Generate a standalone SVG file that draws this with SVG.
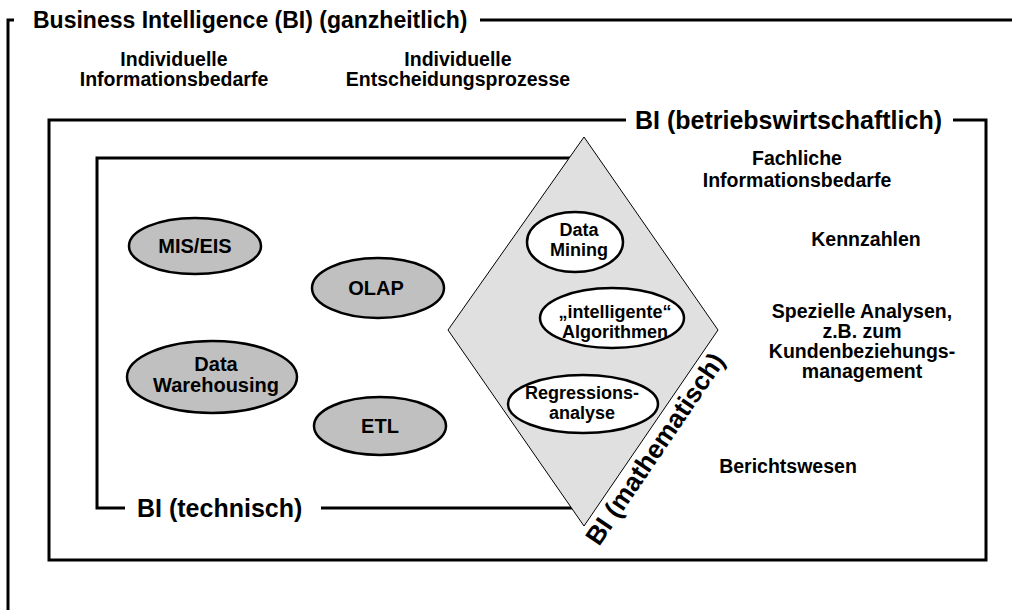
<svg xmlns="http://www.w3.org/2000/svg" width="1017" height="610" viewBox="0 0 1017 610">
<style>
text{font-family:"Liberation Sans",Arial,sans-serif;font-weight:bold;fill:#000}
.frame{fill:none;stroke:#000;stroke-width:3}
.sec{font-size:25px}
.body{font-size:19.5px;text-anchor:middle}
.ell{font-size:20px;text-anchor:middle}
.ell2{font-size:18px;text-anchor:middle}
.gray{fill:#c0c0c0;stroke:#000;stroke-width:2.5}
.white{fill:#fff;stroke:#000;stroke-width:2.5}
</style>
<rect width="1017" height="610" fill="#fff"/>
<g id="connectors">
<polyline class="frame" points="14,20 8,20 8,612"/>
<line class="frame" x1="480" y1="20" x2="1012" y2="20"/>
<polyline class="frame" points="626,120 49,120 49,560 986,560 986,120 953,120"/>
<polyline class="frame" points="584,158 97,158 97,508 125,508"/>
<line class="frame" x1="321" y1="508" x2="584" y2="508"/>
</g>
<g id="title"><text x="33" y="28" style="font-size:23px">Business Intelligence (BI) (ganzheitlich)</text></g>
<g id="label-betriebs"><text class="sec" x="942" y="129" text-anchor="end">BI (betriebswirtschaftlich)</text></g>
<g id="label-technisch"><text class="sec" x="137" y="517">BI (technisch)</text></g>
<g id="col-info"><text class="body" x="174" y="66">Individuelle</text><text class="body" x="174" y="86">Informationsbedarfe</text></g>
<g id="col-entsch"><text class="body" x="458" y="66">Individuelle</text><text class="body" x="458" y="86">Entscheidungsprozesse</text></g>
<g id="diamond"><polygon points="584,137 718,330 584,526 448,330" fill="#e0e0e0" stroke="#000" stroke-width="1"/></g>
<g id="label-math"><text style="font-size:26px" transform="translate(599,547) rotate(-55.8)">BI (mathematisch)</text></g>
<g id="mis"><ellipse class="gray" cx="195" cy="246" rx="66" ry="28"/><text class="ell" x="195" y="253">MIS/EIS</text></g>
<g id="olap"><ellipse class="gray" cx="378" cy="288" rx="66" ry="30"/><text class="ell" x="376" y="295">OLAP</text></g>
<g id="dw"><ellipse class="gray" cx="212" cy="377" rx="85" ry="36"/><text class="ell" x="216" y="371">Data</text><text class="ell" x="216" y="392">Warehousing</text></g>
<g id="etl"><ellipse class="gray" cx="380" cy="426" rx="66" ry="29"/><text class="ell" x="380" y="433">ETL</text></g>
<g id="datamining"><ellipse class="white" cx="575" cy="242" rx="48" ry="30"/><text class="ell2" x="579" y="236">Data</text><text class="ell2" x="579" y="256">Mining</text></g>
<g id="algorithmen"><ellipse class="white" cx="612" cy="318" rx="72" ry="30"/><text class="ell2" x="615" y="318">„intelligente“</text><text class="ell2" x="615" y="338">Algorithmen</text></g>
<g id="regression"><ellipse class="white" cx="583" cy="404" rx="75" ry="29"/><text class="ell2" x="582" y="399">Regressions-</text><text class="ell2" x="582" y="419">analyse</text></g>
<g id="fachlich"><text class="body" x="797" y="165">Fachliche</text><text class="body" x="797" y="187">Informationsbedarfe</text></g>
<g id="kennzahlen"><text class="body" x="866" y="246">Kennzahlen</text></g>
<g id="spezielle"><text class="body" x="862" y="318">Spezielle Analysen,</text><text class="body" x="862" y="338">z.B. zum</text><text class="body" x="862" y="358">Kundenbeziehungs-</text><text class="body" x="862" y="378">management</text></g>
<g id="berichtswesen"><text class="body" x="788" y="473">Berichtswesen</text></g>
</svg>
